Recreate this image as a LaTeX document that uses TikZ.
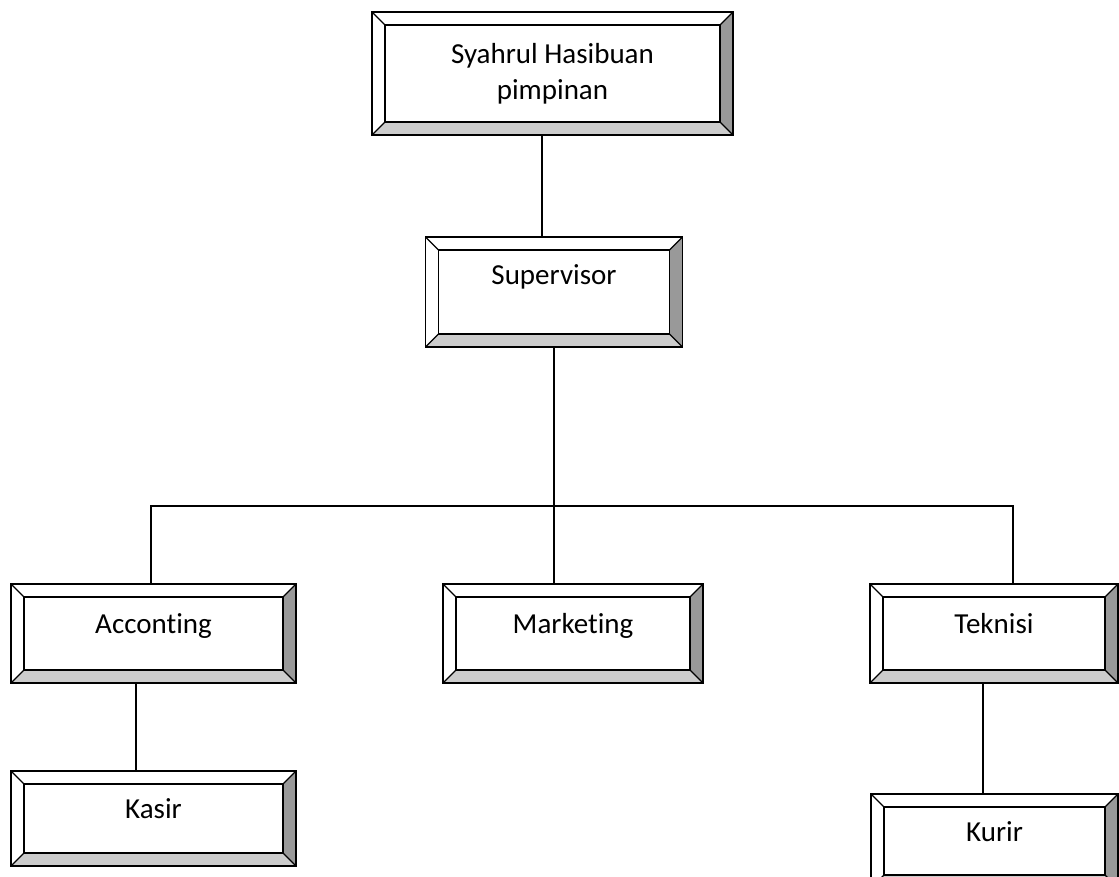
\documentclass[tikz,border=0pt]{standalone}
\usepackage{fontspec}
\setmainfont[RawFeature={-liga;-clig;-calt;-dlig}]{Carlito}
\definecolor{bevdark}{gray}{0.6}
\definecolor{bevlight}{gray}{0.8}
\tikzset{
  bevel/.style={draw, line width=1.2pt, fill=white, inner sep=0pt, align=center,
    font=\fontsize{29pt}{36pt}\selectfont,
    path picture={
      \fill[bevlight] (path picture bounding box.south west) -- (path picture bounding box.south east)
        -- ([shift={(-13pt,13pt)}]path picture bounding box.south east)
        -- ([shift={(13pt,13pt)}]path picture bounding box.south west) -- cycle;
      \fill[bevdark] (path picture bounding box.north east) -- (path picture bounding box.south east)
        -- ([shift={(-13pt,13pt)}]path picture bounding box.south east)
        -- ([shift={(-13pt,-13pt)}]path picture bounding box.north east) -- cycle;
      \draw[line width=1.2pt] ([shift={(13pt,-13pt)}]path picture bounding box.north west)
        rectangle ([shift={(-13pt,13pt)}]path picture bounding box.south east);
      \draw[line width=1.2pt] (path picture bounding box.north west) -- ++(13pt,-13pt)
        (path picture bounding box.north east) -- ++(-13pt,-13pt)
        (path picture bounding box.south west) -- ++(13pt,13pt)
        (path picture bounding box.south east) -- ++(-13pt,13pt);
    }},
  box/.style={bevel, text height=20pt, text depth=20pt, minimum height=99pt}
}
\begin{document}
\begin{tikzpicture}[x=1pt, y=-1pt, line width=1.2pt]
\useasboundingbox (0,0) rectangle (1119,877);
\node[bevel, minimum width=361pt, minimum height=123pt] (pimp) at (552.5,73.5) {Syahrul Hasibuan\\pimpinan};
\node[box, minimum width=257pt, minimum height=110pt, text depth=34pt] (sup) at (554,292) {Supervisor};
\node[box, minimum width=285pt] (acc) at (153.5,633.5) {Acconting};
\node[box, minimum width=260pt] (mkt) at (573,633.5) {Marketing};
\node[box, minimum width=248pt] (tek) at (994,633.5) {Teknisi};
\node[box, minimum width=285pt, minimum height=95pt] (kas) at (153.5,818.5) {Kasir};
\node[box, minimum width=247pt, minimum height=94pt] (kur) at (994.5,841) {Kurir};
\coordinate (bus) at (554,506);
\draw ([xshift=-10.5pt]pimp.south) -- ([xshift=-12pt]sup.north);
\draw (sup.south) -- (bus);
\draw ([xshift=-2.5pt]acc.north) |- (bus) -| ([xshift=19pt]tek.north);
\draw (bus) -- (bus |- mkt.north);
\draw ([xshift=-17.5pt]acc.south) -- ([xshift=-17.5pt]kas.north);
\draw ([xshift=-11pt]tek.south) -- ([xshift=-11.5pt]kur.north);
\end{tikzpicture}
\end{document}
